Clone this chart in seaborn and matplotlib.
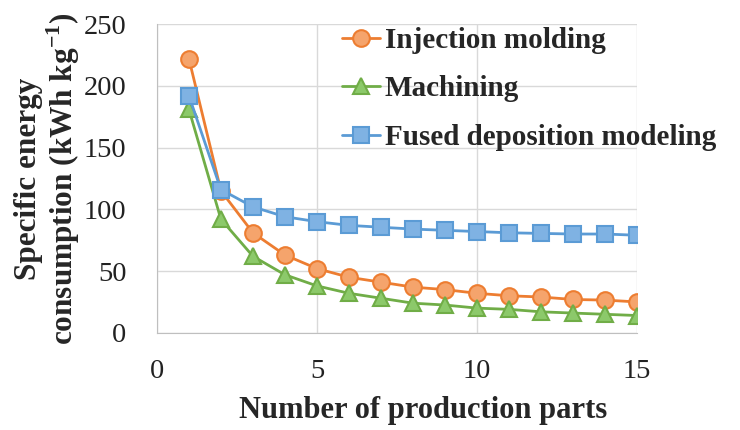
import pandas as pd
import seaborn as sns
import matplotlib.pyplot as plt
from matplotlib.lines import Line2D

# --------------------------------------------------------------------------- #
# Data
parts = list(range(1, 16))
injection_molding = [222, 115, 81, 63, 52, 45, 41, 37, 35, 32, 30, 29, 27, 26.5, 25]
machining = [181, 92, 62, 47, 38, 32, 28, 24, 22.5, 20, 19, 17, 16, 15, 14]
fused_deposition = [192, 116, 102, 94, 90, 87, 85.5, 84, 83, 82, 81, 80.5, 80, 80, 79]

series_names = ["Injection molding", "Machining", "Fused deposition modeling"]
x_ticks = [0, 5, 10, 15]
y_ticks = [0, 50, 100, 150, 200, 250]

df = pd.DataFrame({
    "parts": parts * 3,
    "value": injection_molding + machining + fused_deposition,
    "process": [n for n in series_names for _ in parts],
})

# --------------------------------------------------------------------------- #
# Style
sns.set_style("white")
plt.rcParams["font.family"] = ["Liberation Serif", "DejaVu Serif"]
plt.rcParams["mathtext.fontset"] = "custom"
plt.rcParams["mathtext.rm"] = "Liberation Serif"
plt.rcParams["mathtext.bf"] = "Liberation Serif:bold"

line_colors = {"Injection molding": "#ED7D31", "Machining": "#70AD47",
               "Fused deposition modeling": "#5B9BD5"}
face_colors = {"Injection molding": "#F5A46C", "Machining": "#8CC96A",
               "Fused deposition modeling": "#7FB2E3"}
markers = {"Injection molding": "o", "Machining": "^",
           "Fused deposition modeling": "s"}

fig = plt.figure(figsize=(7.4, 4.3), dpi=100)
ax = fig.add_axes([0.212, 0.226, 0.649, 0.718])

for name in series_names:
    sns.lineplot(data=df[df["process"] == name], x="parts", y="value", ax=ax,
                 color=line_colors[name], marker=markers[name], markersize=12,
                 markerfacecolor=face_colors[name], markeredgecolor=line_colors[name],
                 markeredgewidth=1.5, linewidth=2, legend=False)

ax.set(xlim=(0, 15), ylim=(0, 250), xticks=x_ticks, yticks=y_ticks)
ax.grid(True, color="#D9D9D9", linewidth=1)
ax.set_axisbelow(True)
for side in ["top", "right"]:
    ax.spines[side].set_visible(False)
for side in ["left", "bottom"]:
    ax.spines[side].set_color("#BFBFBF")
ax.tick_params(axis="y", labelsize=20.5, length=0, pad=22, labelcolor="#222222")
ax.tick_params(axis="x", labelsize=20.5, length=0, pad=19, labelcolor="#222222")

ax.set_xlabel("Number of production parts", fontsize=22, fontweight="bold")
ax.xaxis.set_label_coords(0.555, -0.205)   # label sits a bit right of the axis centre
ax.set_ylabel("Specific energy\nconsumption (kWh kg$^{\\mathbf{-1}}$)", fontsize=22.5,
              fontweight="bold", labelpad=1, linespacing=1.05)

handles = [Line2D([], [], color=line_colors[n], marker=markers[n], markersize=12,
                  markerfacecolor=face_colors[n], markeredgecolor=line_colors[n],
                  markeredgewidth=1.5, linewidth=2) for n in series_names]
fig.legend(handles, series_names, loc="upper left", bbox_to_anchor=(0.446, 0.965),
           frameon=False, prop={"weight": "bold", "size": 21}, handlelength=1.3,
           handletextpad=0.17, labelspacing=0.74, borderaxespad=0)

fig.savefig("out.png", dpi=100)
